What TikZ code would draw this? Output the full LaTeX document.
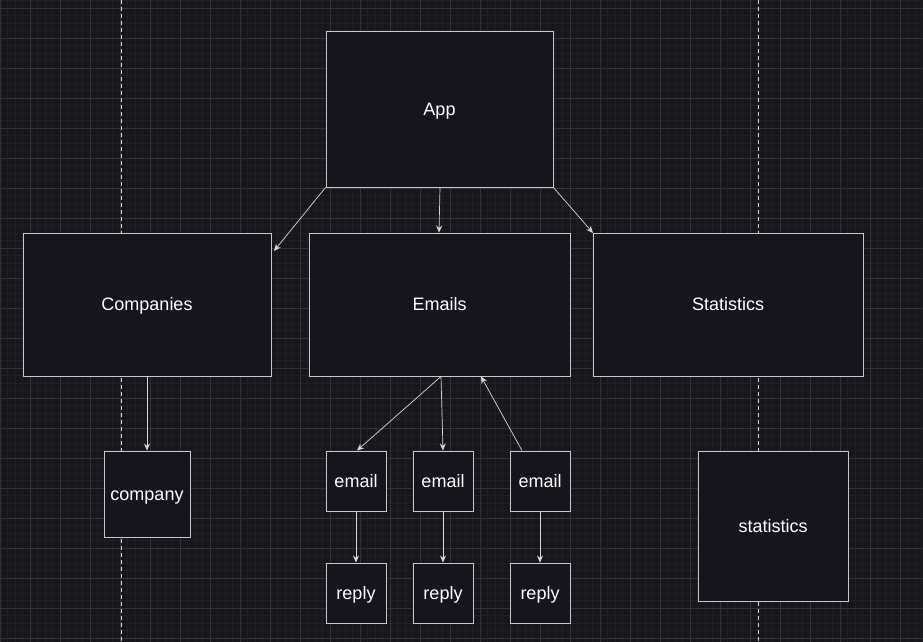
\documentclass[tikz,border=0pt]{standalone}
\usepackage{fontspec}
\setmainfont{Liberation Sans}
\usetikzlibrary{arrows.meta}
\definecolor{bg}{HTML}{18161D}
\definecolor{gminor}{HTML}{211F26}
\definecolor{gmajor}{HTML}{35333A}
\definecolor{boxfill}{HTML}{18141D}
\definecolor{boxline}{HTML}{C8C8C8}
\definecolor{arrowc}{HTML}{D8D8D8}
\tikzset{
  box/.style={draw=boxline, fill=boxfill, line width=0.9pt, inner sep=0pt,
    text=white, font=\fontsize{18}{21}\selectfont, text height=13pt, text depth=1pt},
  conn/.style={draw=arrowc, line width=0.7pt, -{Stealth[length=7pt,width=6pt]}},
  lane/.style={draw=white!85!black, line width=0.8pt, dash pattern=on 4pt off 3pt}
}
\begin{document}
\begin{tikzpicture}[x=1pt,y=-1pt]
\fill[bg] (0,0) rectangle (923,642);
\useasboundingbox (0,0) rectangle (923,642);
% minor grid
\foreach \i in {0,...,124} {\draw[gminor, line width=0.6pt] (\i*7.5,0) -- (\i*7.5,642);}
\foreach \i in {0,...,86} {\draw[gminor, line width=0.6pt] (0,0.5+\i*7.5) -- (923,0.5+\i*7.5);}
% major grid
\foreach \i in {0,...,31} {\draw[gmajor, line width=0.7pt] (\i*30,0) -- (\i*30,642);}
\foreach \i in {0,...,21} {\draw[gmajor, line width=0.7pt] (0,8+\i*30) -- (923,8+\i*30);}
% lanes
\draw[lane] (121,0) -- (121,642);
\draw[lane] (758,0) -- (758,642);
% boxes
\node[box, minimum width=227pt, minimum height=156pt] (App) at (439.5,109) {App};
\node[box, minimum width=248pt, minimum height=143pt] (Companies) at (147,304.5) {Companies};
\node[box, minimum width=261pt, minimum height=143pt] (Emails) at (439.5,304.5) {Emails};
\node[box, minimum width=270pt, minimum height=143pt] (Statistics) at (728,304.5) {Statistics};
\node[box, minimum width=86pt, minimum height=86pt] (company) at (147,494) {company};
\node[box, minimum width=60pt, minimum height=60pt] (email1) at (356,481) {email};
\node[box, minimum width=60pt, minimum height=60pt] (email2) at (443,481) {email};
\node[box, minimum width=60pt, minimum height=60pt] (email3) at (540,481) {email};
\node[box, minimum width=60pt, minimum height=60pt] (reply1) at (356,593) {reply};
\node[box, minimum width=60pt, minimum height=60pt] (reply2) at (443,593) {reply};
\node[box, minimum width=60pt, minimum height=60pt] (reply3) at (540,593) {reply};
\node[box, minimum width=150pt, minimum height=150pt] (stats) at (773,526) {statistics};
% connectors
\coordinate (c1) at (274,251);
\coordinate (c3) at (593,233);
\draw[conn] (App.south west) -- (c1);
\draw[conn] ([xshift=0.5pt]App.south) -- ([xshift=-0.5pt]Emails.north);
\draw[conn] (App.south east) -- (c3);
\draw[conn] ([xshift=1.5pt]Emails.south) -- ([xshift=1pt]email1.north);
\draw[conn] ([xshift=1.5pt]Emails.south) -- (email2.north);
\draw[conn] ([xshift=-18pt]email3.north) -- ([xshift=41.5pt]Emails.south);
\draw[conn] (Companies.south) -- (company.north);
\draw[conn] (email1.south) -- (reply1.north);
\draw[conn] (email2.south) -- (reply2.north);
\draw[conn] (email3.south) -- (reply3.north);
\end{tikzpicture}
\end{document}
